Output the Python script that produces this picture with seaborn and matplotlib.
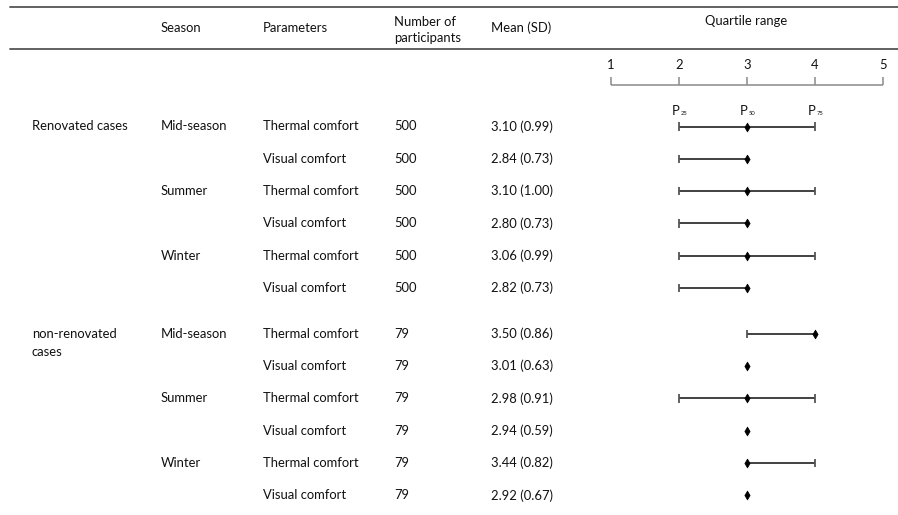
import matplotlib
matplotlib.use("Agg")
import matplotlib.pyplot as plt
import matplotlib.transforms as mtransforms
import numpy as np
import pandas as pd
import seaborn as sns

# ---- table content ----
groups = ["Renovated cases", "non-renovated\ncases"]
seasons = ["Mid-season", "Summer", "Winter"]
parameters = ["Thermal comfort", "Visual comfort"]
participants = [500, 500, 500, 500, 500, 500, 79, 79, 79, 79, 79, 79]
means = [3.10, 2.84, 3.10, 2.80, 3.06, 2.82, 3.50, 3.01, 2.98, 2.94, 3.44, 2.92]
sds = [0.99, 0.73, 1.00, 0.73, 0.99, 0.73, 0.86, 0.63, 0.91, 0.59, 0.82, 0.67]
p25 = [2, 2, 2, 2, 2, 2, 3, 3, 2, 3, 3, 3]
p50 = [3, 3, 3, 3, 3, 3, 4, 3, 3, 3, 3, 3]
p75 = [4, 3, 4, 3, 4, 3, 4, 3, 4, 3, 4, 3]
scale_ticks = [1, 2, 3, 4, 5]

sns.set_theme(style="white")
plt.rcParams["font.family"] = ["Lato", "DejaVu Sans"]

W, H = 898, 515
DPI = 100
fig = plt.figure(figsize=(W / DPI, H / DPI), dpi=DPI)

# row layout (pixels): first row centre and row pitch, extra gap between groups
ROW0, PITCH, GROUP_GAP = 126.5, 32.3, 0.42
X1_PX, X5_PX = 611, 883


def fx(px):
    return px / W


def fy(py):
    return 1 - py / H


def row_y(py):
    return (py - ROW0) / PITCH


ax = fig.add_axes([fx(X1_PX), 0, fx(X5_PX) - fx(X1_PX), 1])

n_rows = len(means)
rows_per_group = len(seasons) * len(parameters)
df = pd.DataFrame({
    "group": [groups[i // rows_per_group] for i in range(n_rows)],
    "season": [seasons[(i % rows_per_group) // 2] for i in range(n_rows)],
    "parameter": [parameters[i % 2] for i in range(n_rows)],
    "n": participants,
    "mean": means,
    "sd": sds,
    "p25": p25,
    "p50": p50,
    "p75": p75,
})
df["y"] = [i + GROUP_GAP * (i // rows_per_group) for i in range(n_rows)]

# ---- rules ----
rule_kw = dict(color="#555555", lw=1.3, transform=fig.transFigure, clip_on=False)
fig.add_artist(plt.Line2D([fx(10), 1], [fy(7), fy(7)], **rule_kw))
fig.add_artist(plt.Line2D([fx(10), 1], [fy(49), fy(49)], **rule_kw))

# ---- headers ----
FS = 9.4
INK = "#111111"
hdr = dict(fontsize=FS, color=INK, va="center", transform=fig.transFigure)
fig.text(fx(161), fy(28), "Season", **hdr)
fig.text(fx(263), fy(28), "Parameters", **hdr)
fig.text(fx(394), fy(30), "Number of\nparticipants", linespacing=1.3, **hdr)
fig.text(fx(491), fy(28), "Mean (SD)", **hdr)
fig.text(fx(746), fy(21), "Quartile range", ha="center", fontsize=FS,
         color=INK, va="center", transform=fig.transFigure)

# ---- table body ----
blend = mtransforms.blended_transform_factory(fig.transFigure, ax.transData)
body = dict(fontsize=FS, color=INK, va="center", transform=blend, clip_on=False)
line_step = 18.5 / PITCH
for i, r in df.iterrows():
    y = r["y"]
    if i % rows_per_group == 0:
        for k, part in enumerate(r["group"].split("\n")):
            ax.text(fx(32), y + k * line_step, part, **body)
    if i % 2 == 0:
        ax.text(fx(161), y, r["season"], **body)
    ax.text(fx(263), y, r["parameter"], **body)
    ax.text(fx(394), y, f"{r['n']}", **body)
    ax.text(fx(491), y, f"{r['mean']:.2f} ({r['sd']:.2f})", **body)

# ---- scale above the quartile plot ----
scale_y = row_y(85)
tick_top = row_y(77)
ax.hlines(scale_y, scale_ticks[0], scale_ticks[-1], color="#8a8a8a", lw=1.1, clip_on=False)
ax.vlines(scale_ticks, scale_y, tick_top, color="#8a8a8a", lw=1.1, clip_on=False)
for t in scale_ticks:
    ax.text(t, row_y(65), str(t), ha="center", va="center", fontsize=FS,
            color=INK, clip_on=False)

# ---- quartile ranges ----
cap_h = 4.2 / PITCH
ax.hlines(df["y"], df["p25"], df["p75"], color="#333333", lw=1.3, zorder=2)
for _, r in df.iterrows():
    for end in (r["p25"], r["p75"]):
        if end != r["p50"]:
            ax.vlines(end, r["y"] - cap_h, r["y"] + cap_h, color="#555555", lw=1.3, zorder=2)

sns.scatterplot(data=df, x="p50", y="y", marker="d", s=20, color="black",
                edgecolor="black", linewidth=0.5, ax=ax, zorder=3, legend=False,
                clip_on=False)
ax.set_xlim(1, 5)
ax.set_ylim(row_y(H), row_y(0))
ax.axis("off")

# percentile labels over the first row
first = df.iloc[0]
for val, sub in zip((first["p25"], first["p50"], first["p75"]), ("25", "50", "75")):
    ax.annotate("P", xy=(val, first["y"]), xytext=(-5.4, 8.4), textcoords="offset points",
                fontsize=FS, ha="left", va="baseline", color=INK)
    ax.annotate(sub, xy=(val, first["y"]), xytext=(1.0, 8.4), textcoords="offset points",
                fontsize=4.2, ha="left", va="baseline", color=INK)

fig.savefig("out.png", dpi=DPI, facecolor="white")
